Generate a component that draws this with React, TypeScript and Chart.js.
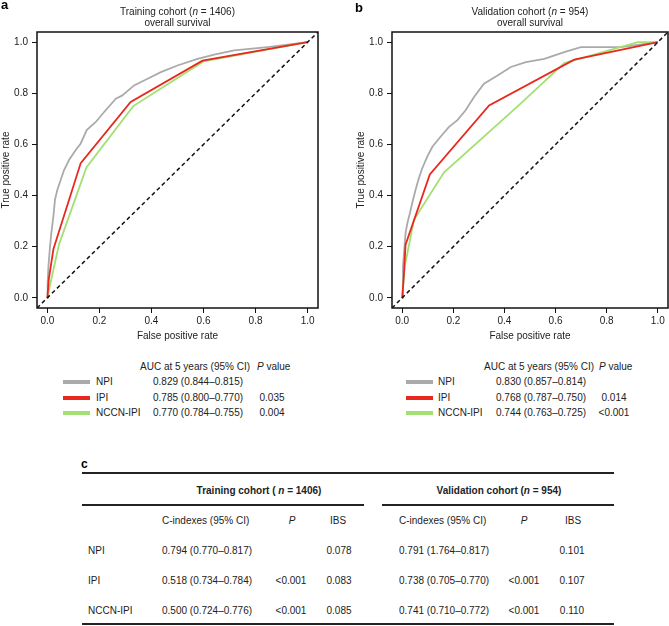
import React, { useEffect, useRef } from "react";
import { Chart, registerables } from "chart.js";
Chart.register(...registerables);

const FONT = "'Liberation Sans', Arial, Helvetica, sans-serif";
Chart.defaults.font.family = FONT;

const tickValues = [0, 0.2, 0.4, 0.6, 0.8, 1.0];
const seriesNames = ["NPI", "IPI", "NCCN-IPI"];
const seriesColors = ["#aaaaaa", "#e8281e", "#a2e072"];

// Training cohort ROC curves
const trainNpiFpr = [0, 0.001, 0.004, 0.009, 0.015, 0.023, 0.029, 0.038, 0.051, 0.064, 0.083, 0.109, 0.128, 0.151, 0.186, 0.218, 0.263, 0.288, 0.333, 0.385, 0.436, 0.5, 0.577, 0.641, 0.718, 0.846, 1];
const trainNpiTpr = [0, 0.058, 0.123, 0.188, 0.253, 0.318, 0.383, 0.422, 0.461, 0.5, 0.539, 0.578, 0.604, 0.656, 0.688, 0.727, 0.779, 0.792, 0.831, 0.857, 0.883, 0.909, 0.935, 0.951, 0.968, 0.981, 1];
const trainIpiFpr = [0, 0.005, 0.023, 0.128, 0.32, 0.596, 1];
const trainIpiTpr = [0, 0.07, 0.19, 0.527, 0.766, 0.928, 1];
const trainNccnFpr = [0, 0.01, 0.045, 0.15, 0.33, 0.6, 1];
const trainNccnTpr = [0, 0.05, 0.21, 0.51, 0.75, 0.925, 1];

// Validation cohort ROC curves
const validNpiFpr = [0, 0.003, 0.009, 0.013, 0.02, 0.03, 0.039, 0.052, 0.065, 0.078, 0.098, 0.118, 0.15, 0.183, 0.216, 0.248, 0.281, 0.32, 0.373, 0.425, 0.484, 0.556, 0.634, 0.699, 0.856, 1];
const validNpiTpr = [0, 0.123, 0.201, 0.253, 0.292, 0.331, 0.37, 0.422, 0.468, 0.506, 0.552, 0.591, 0.63, 0.669, 0.695, 0.734, 0.786, 0.838, 0.87, 0.903, 0.922, 0.935, 0.961, 0.981, 0.981, 1];
const validIpiFpr = [0, 0.007, 0.013, 0.108, 0.34, 0.673, 1];
const validIpiTpr = [0, 0.097, 0.208, 0.483, 0.753, 0.932, 1];
const validNccnFpr = [0, 0.01, 0.046, 0.163, 0.46, 0.634, 0.922, 1];
const validNccnTpr = [0, 0.123, 0.305, 0.49, 0.757, 0.918, 1, 1];

// Legend tables
const trainAuc = ["0.829 (0.844–0.815)", "0.785 (0.800–0.770)", "0.770 (0.784–0.755)"];
const trainAucP = ["", "0.035", "0.004"];
const validAuc = ["0.830 (0.857–0.814)", "0.768 (0.787–0.750)", "0.744 (0.763–0.725)"];
const validAucP = ["", "0.014", "<0.001"];

// Table c
const tableRows = ["NPI", "IPI", "NCCN-IPI"];
const trainCIndex = ["0.794 (0.770–0.817)", "0.518 (0.734–0.784)", "0.500 (0.724–0.776)"];
const trainCP = ["", "<0.001", "<0.001"];
const trainIBS = ["0.078", "0.083", "0.085"];
const validCIndex = ["0.791 (1.764–0.817)", "0.738 (0.705–0.770)", "0.741 (0.710–0.772)"];
const validCP = ["", "<0.001", "<0.001"];
const validIBS = ["0.101", "0.107", "0.110"];

const boxPlugin = {
  id: "box",
  afterDatasetsDraw(chart: any) {
    const { ctx, chartArea: a } = chart;
    ctx.save();
    ctx.strokeStyle = "#111";
    ctx.lineWidth = 1.5;
    ctx.strokeRect(a.left, a.top, a.right - a.left, a.bottom - a.top);
    ctx.restore();
  },
};

type RocProps = {
  left: number;
  width: number;
  height: number;
  padLeft: number;
  padRight: number;
  yAxisW: number;
  xAxisH: number;
  fprs: number[][];
  tprs: number[][];
};

function RocChart(p: RocProps) {
  const ref = useRef<HTMLCanvasElement | null>(null);
  useEffect(() => {
    if (!ref.current) return;
    const toPts = (xs: number[], ys: number[]) => xs.map((x, i) => ({ x, y: ys[i] }));
    const datasets: any[] = [
      {
        data: [{ x: -0.04, y: -0.04 }, { x: 1.04, y: 1.04 }],
        borderColor: "#111",
        borderDash: [4, 3],
        borderWidth: 1.5,
        pointRadius: 0,
        showLine: true,
      },
    ];
    // draw order: red on top, then green, then gray
    const order = [1, 2, 0];
    order.forEach((k) => {
      datasets.push({
        data: toPts(p.fprs[k], p.tprs[k]),
        borderColor: seriesColors[k],
        borderWidth: 1.8,
        pointRadius: 0,
        showLine: true,
        tension: 0,
      });
    });
    const axisCommon = {
      type: "linear" as const,
      min: -0.04,
      max: 1.04,
      afterBuildTicks: (s: any) => {
        s.ticks = tickValues.map((v) => ({ value: v }));
      },
      grid: { drawOnChartArea: false, drawTicks: true, tickLength: 5, color: "#111", lineWidth: 1 },
      border: { display: false },
    };
    const chart = new Chart(ref.current, {
      type: "scatter",
      data: { datasets },
      plugins: [boxPlugin],
      options: {
        animation: false,
        responsive: false,
        maintainAspectRatio: false,
        events: [],
        layout: { padding: { top: 32, right: p.padRight, left: p.padLeft, bottom: 0 } },
        plugins: { legend: { display: false }, tooltip: { enabled: false } },
        scales: {
          x: {
            ...axisCommon,
            afterFit: (s: any) => {
              s.height = p.xAxisH;
            },
            ticks: {
              callback: (v: any) => Number(v).toFixed(1),
              font: { size: 10 },
              color: "#222",
              padding: 2,
              maxRotation: 0,
              autoSkip: false,
            },
            title: {
              display: true,
              text: "False positive rate",
              font: { size: 10 },
              color: "#222",
              padding: { top: 0, bottom: 0 },
            },
          },
          y: {
            ...axisCommon,
            afterFit: (s: any) => {
              s.width = p.yAxisW;
            },
            ticks: {
              callback: (v: any) => Number(v).toFixed(1),
              font: { size: 10 },
              color: "#222",
              padding: 4,
              autoSkip: false,
            },
            title: {
              display: true,
              text: "True positive rate",
              font: { size: 10 },
              color: "#222",
              padding: { top: 0, bottom: 0 },
            },
          },
        },
      } as any,
    });
    return () => chart.destroy();
  }, []);
  return (
    <canvas
      ref={ref}
      width={p.width}
      height={p.height}
      style={{ position: "absolute", left: p.left, top: 0, width: p.width, height: p.height }}
    />
  );
}

const txt = (extra: React.CSSProperties): React.CSSProperties => ({
  position: "absolute",
  fontSize: 10,
  lineHeight: "12px",
  whiteSpace: "nowrap",
  color: "#222",
  ...extra,
});

function Centered(props: { x: number; y: number; children: React.ReactNode; bold?: boolean }) {
  return (
    <div
      style={txt({
        left: props.x - 150,
        width: 300,
        top: props.y - 6,
        textAlign: "center",
        fontWeight: props.bold ? "bold" : "normal",
      })}
    >
      {props.children}
    </div>
  );
}

function Left(props: { x: number; y: number; children: React.ReactNode }) {
  return <div style={txt({ left: props.x, top: props.y - 6 })}>{props.children}</div>;
}

function AucLegend(props: {
  swX: number;
  labX: number;
  valX: number;
  pX: number;
  hdrX: number;
  pHdrX: number;
  auc: string[];
  pv: string[];
}) {
  const rowsY = [382, 397.5, 413];
  return (
    <>
      <Left x={props.hdrX} y={367}>AUC at 5 years (95% CI)</Left>
      <Left x={props.pHdrX} y={367}>
        <i>P</i> value
      </Left>
      {seriesNames.map((n, i) => (
        <React.Fragment key={n}>
          <div
            style={{
              position: "absolute",
              left: props.swX,
              width: 27,
              top: rowsY[i] - 2,
              height: 4,
              background: seriesColors[i],
            }}
          />
          <Left x={props.labX} y={rowsY[i]}>{n}</Left>
          <Left x={props.valX} y={rowsY[i]}>{props.auc[i]}</Left>
          <Centered x={props.pX} y={rowsY[i]}>{props.pv[i]}</Centered>
        </React.Fragment>
      ))}
    </>
  );
}

function HLine(props: { x1: number; x2: number; y: number }) {
  return (
    <div
      style={{
        position: "absolute",
        left: props.x1,
        width: props.x2 - props.x1,
        top: props.y - 0.75,
        height: 1.5,
        background: "#222",
      }}
    />
  );
}

export default function App() {
  const rowY = [551, 581, 611];
  return (
    <div
      style={{
        position: "absolute",
        left: 0,
        top: 0,
        width: 669,
        height: 626,
        background: "#fff",
        fontFamily: FONT,
        overflow: "hidden",
      }}
    >
      <RocChart
        left={0}
        width={334}
        height={342}
        padLeft={0}
        padRight={16}
        yAxisW={37}
        xAxisH={34}
        fprs={[trainNpiFpr, trainIpiFpr, trainNccnFpr]}
        tprs={[trainNpiTpr, trainIpiTpr, trainNccnTpr]}
      />
      <RocChart
        left={334}
        width={335}
        height={342}
        padLeft={21}
        padRight={1}
        yAxisW={37}
        xAxisH={34}
        fprs={[validNpiFpr, validIpiFpr, validNccnFpr]}
        tprs={[validNpiTpr, validIpiTpr, validNccnTpr]}
      />

      <div style={txt({ left: 1, top: -2, fontSize: 13, fontWeight: "bold", lineHeight: "14px", color: "#000" })}>a</div>
      <div style={txt({ left: 355, top: 1, fontSize: 13, fontWeight: "bold", lineHeight: "14px", color: "#000" })}>b</div>

      <Centered x={177.5} y={11.5}>
        Training cohort (<i>n</i> = 1406)
      </Centered>
      <Centered x={177.5} y={23}>overall survival</Centered>
      <Centered x={530} y={11.5}>
        Validation cohort (<i>n</i> = 954)
      </Centered>
      <Centered x={530} y={23}>overall survival</Centered>

      <AucLegend swX={63} labX={96} valX={153} pX={272} hdrX={140} pHdrX={257} auc={trainAuc} pv={trainAucP} />
      <AucLegend swX={406} labX={438} valX={496} pX={614} hdrX={484} pHdrX={599} auc={validAuc} pv={validAucP} />

      <div style={txt({ left: 81, top: 457, fontSize: 12, fontWeight: "bold", lineHeight: "14px", color: "#000" })}>c</div>
      <HLine x1={82} x2={614} y={473} />
      <Centered x={259} y={491} bold>
        Training cohort ( <i>n</i> = 1406)
      </Centered>
      <Centered x={499} y={491} bold>
        Validation cohort (<i>n</i> = 954)
      </Centered>
      <HLine x1={82} x2={364} y={505} />
      <HLine x1={382} x2={614} y={505} />

      <Left x={162} y={521}>C-indexes (95% CI)</Left>
      <Centered x={292} y={521}>
        <i>P</i>
      </Centered>
      <Centered x={338} y={521}>IBS</Centered>
      <Left x={399} y={521}>C-indexes (95% CI)</Left>
      <Centered x={524} y={521}>
        <i>P</i>
      </Centered>
      <Centered x={573} y={521}>IBS</Centered>

      {tableRows.map((r, i) => (
        <React.Fragment key={r}>
          <Left x={88} y={rowY[i]}>{r}</Left>
          <Left x={162} y={rowY[i]}>{trainCIndex[i]}</Left>
          <Centered x={291} y={rowY[i]}>{trainCP[i]}</Centered>
          <Centered x={339} y={rowY[i]}>{trainIBS[i]}</Centered>
          <Left x={399} y={rowY[i]}>{validCIndex[i]}</Left>
          <Centered x={524} y={rowY[i]}>{validCP[i]}</Centered>
          <Centered x={572} y={rowY[i]}>{validIBS[i]}</Centered>
        </React.Fragment>
      ))}
      <HLine x1={82} x2={614} y={624} />
    </div>
  );
}
